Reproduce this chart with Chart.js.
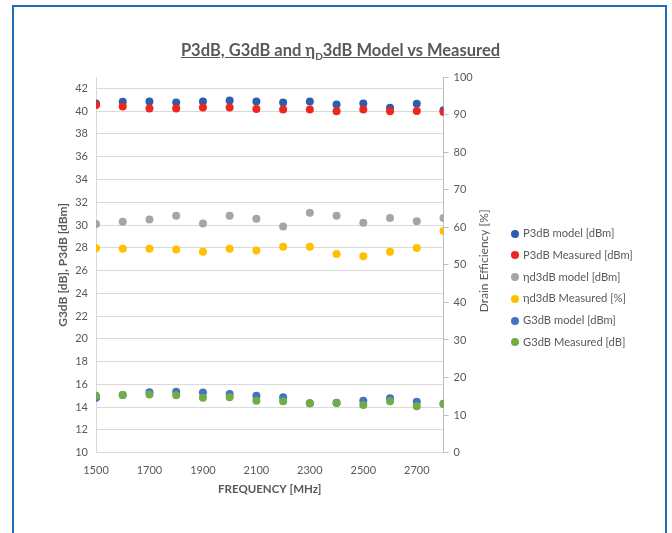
<!DOCTYPE html>
<html>
<head>
<meta charset="utf-8">
<script src="https://cdn.jsdelivr.net/npm/chart.js@4/dist/chart.umd.min.js"></script>
<style>
  body { margin: 0; background: #fff; font-family: Lato, "Open Sans", sans-serif; }
  #wrap { position: relative; width: 672px; height: 533px; overflow: hidden; }
  #frame { position: absolute; left: 12px; top: 5px; width: 651px; height: 600px; border: 2px solid #1F6FB8; }
  #title { position: absolute; left: 0; width: 681px; top: 40px; text-align: center; font-weight: bold;
           font-size: 16.5px; color: #595959; text-decoration: underline; }
  #title sub { font-size: 10px; }
  #chart { position: absolute; left: 0; top: 0; }
  #legend { position: absolute; left: 511px; top: 224px; font-size: 11.2px; color: #595959; }
  #legend div { height: 21.8px; line-height: 18px; white-space: nowrap; }
  #legend span { display: inline-block; width: 8px; height: 8px; border-radius: 50%; margin-right: 4px; vertical-align: -0.5px; }
</style>
</head>
<body>
<div id="wrap">
  <div id="frame"></div>
  <canvas id="chart" width="672" height="533"></canvas>
  <div id="title">P3dB, G3dB and η<sub>D</sub>3dB Model vs Measured</div>
  <div id="legend"></div>
</div>
<script>
const FREQ = [1500, 1600, 1700, 1800, 1900, 2000, 2100, 2200, 2300, 2400, 2500, 2600, 2700, 2800];
const P3DB_MODEL = [40.68, 40.82, 40.85, 40.76, 40.85, 40.94, 40.85, 40.76, 40.85, 40.59, 40.68, 40.29, 40.64, 40.09];
const P3DB_MEAS = [40.53, 40.41, 40.24, 40.24, 40.33, 40.33, 40.2, 40.15, 40.15, 40.0, 40.15, 40.0, 40.02, 39.93];
const ETA_MODEL = [60.9, 61.5, 62.1, 63.1, 61.0, 63.1, 62.3, 60.2, 63.9, 63.1, 61.2, 62.5, 61.6, 62.5];
const ETA_MEAS = [54.4, 54.3, 54.3, 54.1, 53.5, 54.3, 53.8, 54.8, 54.8, 52.9, 52.3, 53.5, 54.5, 59.0];
const G3DB_MODEL = [14.83, 15.07, 15.3, 15.36, 15.28, 15.15, 15.0, 14.86, 14.34, 14.39, 14.57, 14.78, 14.48, 14.3];
const G3DB_MEAS = [15.0, 15.07, 15.12, 15.04, 14.83, 14.86, 14.57, 14.51, 14.34, 14.36, 14.19, 14.51, 14.07, 14.3];

const SERIES_NAMES = ['P3dB model [dBm]', 'P3dB Measured [dBm]', 'ηd3dB model [dBm]',
  'ηd3dB Measured [%]', 'G3dB model [dBm]', 'G3dB Measured [dB]'];
const X_TICKS = [1500, 1700, 1900, 2100, 2300, 2500, 2700];
const LEFT_TICKS = [10, 12, 14, 16, 18, 20, 22, 24, 26, 28, 30, 32, 34, 36, 38, 40, 42];
const RIGHT_TICKS = [0, 10, 20, 30, 40, 50, 60, 70, 80, 90, 100];
const RIGHT_TITLE = 'Drain Efficiency [%]';

const SERIES_COLORS = ['#2F5DAE', '#F0261C', '#A5A5A5', '#FFC000', '#4472C4', '#70AD47'];
const TEXT = '#595959';
const GRID = '#d9d9d9';

Chart.defaults.font.family = 'Lato, "Open Sans", sans-serif';

const series = [
  { values: P3DB_MODEL, axis: 'y' },
  { values: P3DB_MEAS, axis: 'y' },
  { values: ETA_MODEL, axis: 'y1' },
  { values: ETA_MEAS, axis: 'y1' },
  { values: G3DB_MODEL, axis: 'y' },
  { values: G3DB_MEAS, axis: 'y' },
];

// Later series sit on top, like the spreadsheet draws them.
const datasets = series.map((s, i) => ({
  label: SERIES_NAMES[i],
  data: FREQ.map((f, j) => ({ x: f, y: s.values[j] })),
  yAxisID: s.axis,
  backgroundColor: SERIES_COLORS[i],
  borderColor: SERIES_COLORS[i],
  borderWidth: 0,
  pointRadius: 4,
  order: series.length - i,
}));

const fixedTicks = list => axis => { axis.ticks = list.map(v => ({ value: v })); };

// Right axis title reads bottom-to-top, which the built-in title can't do.
const rightTitle = {
  id: 'rightTitle',
  afterDraw(chart) {
    const { ctx, chartArea, scales } = chart;
    ctx.save();
    ctx.translate(scales.y1.right - 9, (chartArea.top + chartArea.bottom) / 2 - 4);
    ctx.rotate(-Math.PI / 2);
    ctx.font = '12px Lato, "Open Sans", sans-serif';
    ctx.fillStyle = TEXT;
    ctx.textAlign = 'center';
    ctx.textBaseline = 'middle';
    ctx.fillText(RIGHT_TITLE, 0, 0);
    ctx.restore();
  },
};

new Chart(document.getElementById('chart'), {
  type: 'scatter',
  data: { datasets },
  plugins: [rightTitle],
  options: {
    responsive: false,
    animation: false,
    layout: { padding: { left: 50, right: 178.5, top: 77, bottom: 30 } },
    plugins: { legend: { display: false }, tooltip: { enabled: false } },
    scales: {
      x: {
        type: 'linear', min: 1500, max: 2800,
        afterBuildTicks: fixedTicks(X_TICKS),
        afterFit: s => { s.height = 50.3; },
        grid: { display: false },
        border: { color: GRID },
        ticks: { color: TEXT, font: { size: 11 }, padding: 3, maxRotation: 0, callback: v => String(v) },
        title: { display: true, text: 'FREQUENCY [MHz]', color: TEXT,
                 font: { size: 11.5, weight: 'bold' }, padding: { top: 0, bottom: 7 } },
      },
      y: {
        position: 'left', min: 10, max: 43,
        afterBuildTicks: fixedTicks(LEFT_TICKS),
        afterFit: s => { s.width = 46; },
        grid: { color: GRID, drawTicks: false },
        border: { color: GRID },
        ticks: { color: TEXT, font: { size: 11 }, padding: 8 },
        title: { display: true, text: 'G3dB [dB], P3dB [dBm]', color: TEXT,
                 font: { size: 12, weight: 'bold' }, padding: { top: 6, bottom: 0 } },
      },
      y1: {
        position: 'right', min: 0, max: 100,
        afterBuildTicks: fixedTicks(RIGHT_TICKS),
        afterFit: s => { s.width = 50; },
        grid: { drawOnChartArea: false, tickLength: 5, color: '#bfbfbf' },
        border: { color: '#bfbfbf' },
        ticks: { color: TEXT, font: { size: 11 }, padding: 5 },
      },
    },
  },
});

document.getElementById('legend').innerHTML = SERIES_NAMES
  .map((name, i) => `<div><span style="background:${SERIES_COLORS[i]}"></span>${name}</div>`)
  .join('');
</script>
</body>
</html>
